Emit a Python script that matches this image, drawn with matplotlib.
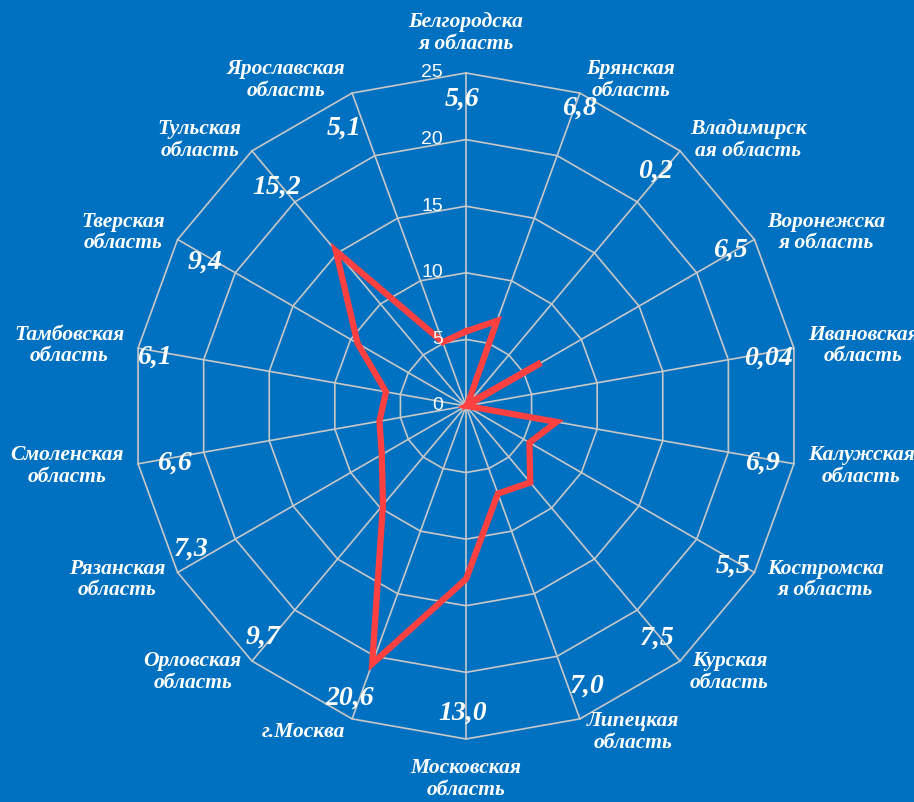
import numpy as np
import matplotlib.pyplot as plt

# Данные
regions = ['Белгородска\nя область', 'Брянская\nобласть', 'Владимирск\nая область',
           'Воронежска\nя область', 'Ивановская\nобласть', 'Калужская\nобласть',
           'Костромска\nя область', 'Курская\nобласть', 'Липецкая\nобласть',
           'Московская\nобласть', 'г.Москва', 'Орловская\nобласть',
           'Рязанская\nобласть', 'Смоленская\nобласть', 'Тамбовская\nобласть',
           'Тверская\nобласть', 'Тульская\nобласть', 'Ярославская\nобласть']
values = [5.6, 6.8, 0.2, 6.5, 0.04, 6.9, 5.5, 7.5, 7.0, 13.0,
          20.6, 9.7, 7.3, 6.6, 6.1, 9.4, 15.2, 5.1]
value_labels = ['5,6', '6,8', '0,2', '6,5', '0,04', '6,9', '5,5', '7,5', '7,0', '13,0',
                '20,6', '9,7', '7,3', '6,6', '6,1', '9,4', '15,2', '5,1']
r_ticks = [0, 5, 10, 15, 20, 25]

# небольшие сдвиги подписей значений (пиксели)
value_nudge = [(-4, 0), (9, 10), (-8, 0), (-1, 3), (1, -5), (-5, -4), (2, -7), (-6, 2), (16, 8),
               (-3, -1), (-12, -4), (-6, 3), (-9, 10), (10, -4), (-10, -4), (4, -9), (8, -16), (-17, -10)]

bg = '#0070C0'
grid_col = '#C8C8C8'
red = '#FF4040'

n = len(regions)
theta = np.arange(n) * 2 * np.pi / n
theta_closed = np.append(theta, theta[0])

fig = plt.figure(figsize=(9.14, 8.02), dpi=100, facecolor=bg)
ax = fig.add_axes([0.1455, 0.0786, 0.7287, 0.8304], projection='polar')
ax.set_facecolor(bg)
ax.set_theta_zero_location('N')
ax.set_theta_direction(-1)
ax.set_ylim(0, 25)
ax.grid(False)
ax.set_xticks([])
ax.set_yticks([])
ax.spines['polar'].set_visible(False)

# сетка-многоугольник
for r in r_ticks[1:]:
    ax.plot(theta_closed, [r] * (n + 1), color=grid_col, lw=1.2, clip_on=False)
for t in theta:
    ax.plot([t, t], [0, 25], color=grid_col, lw=1.2, clip_on=False)

# данные
vals_closed = values + values[:1]
ax.plot(theta_closed, vals_closed, color=red, lw=4.5, solid_joinstyle='miter', clip_on=False, zorder=5)

# подписи шкалы
for r in r_ticks:
    ax.annotate(str(r), xy=(0, r), xytext=(-23, 0), textcoords='offset pixels',
                ha='right', va='center', color='white', fontsize=14,
                family='Liberation Sans', annotation_clip=False, zorder=6)

# подписи категорий
for t, name in zip(theta, regions):
    s, c = np.sin(t), np.cos(t)
    if abs(s) < 0.1:
        ha = 'center'
        dx, dy = 0, 40 * np.sign(c)
    else:
        ha = 'left' if s > 0 else 'right'
        dx = np.sign(s) * (3 + 11 * abs(s))
        dy = 14 * c
    ax.annotate(name, xy=(t, 25), xytext=(dx, dy), textcoords='offset pixels',
                ha=ha, va='center', multialignment='center', linespacing=1.1,
                color='white', fontsize=15.5, fontweight='bold', fontstyle='italic',
                family='Liberation Serif', annotation_clip=False)

# подписи значений
for t, lab, (dx, dy) in zip(theta, value_labels, value_nudge):
    ax.annotate(lab, xy=(t, 23), xytext=(dx, dy), textcoords='offset pixels',
                ha='center', va='center', color='white', fontsize=20,
                fontweight='bold', fontstyle='italic', family='Liberation Serif',
                annotation_clip=False, zorder=6)

fig.savefig('out.png', dpi=100, facecolor=bg)
